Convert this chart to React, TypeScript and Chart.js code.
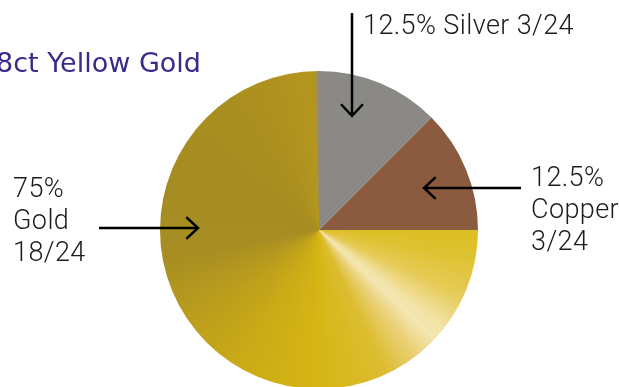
import React, { useEffect, useRef } from "react";
import { Chart, registerables } from "chart.js";

Chart.register(...registerables);

const categories = ["Silver", "Copper", "Gold"];
const parts = [3, 3, 18];
const titleText = "18ct Yellow Gold";
const silverLabel = ["12.5% Silver 3/24"];
const copperLabel = ["12.5%", "Copper", "3/24"];
const goldLabel = ["75%", "Gold", "18/24"];

const SILVER = "#8b8986";
const COPPER = "#8b5b3f";

function goldGradient(ctx: CanvasRenderingContext2D, cx: number, cy: number) {
  const g = (ctx as any).createConicGradient(0, cx, cy);
  const stops: [number, string][] = [
    [0.0, "#dcbf22"],
    [0.03, "#dfc232"],
    [0.07, "#e6cb58"],
    [0.105, "#f2e2a6"],
    [0.12, "#f4e6b2"],
    [0.145, "#ead076"],
    [0.18, "#dcbd30"],
    [0.25, "#d6b614"],
    [0.33, "#cbab16"],
    [0.4, "#bc9e1c"],
    [0.47, "#a88e22"],
    [0.55, "#a58c22"],
    [0.65, "#a98e20"],
    [0.745, "#b4961e"],
    [0.75, SILVER],
    [1.0, SILVER],
  ];
  stops.forEach(([o, c]) => g.addColorStop(o, c));
  return g;
}

function arrow(ctx: CanvasRenderingContext2D, x1: number, y1: number, x2: number, y2: number) {
  const ang = Math.atan2(y2 - y1, x2 - x1);
  const h = 16;
  const spread = Math.PI / 4.2;
  ctx.beginPath();
  ctx.moveTo(x1, y1);
  ctx.lineTo(x2, y2);
  ctx.moveTo(x2 - h * Math.cos(ang - spread), y2 - h * Math.sin(ang - spread));
  ctx.lineTo(x2, y2);
  ctx.lineTo(x2 - h * Math.cos(ang + spread), y2 - h * Math.sin(ang + spread));
  ctx.stroke();
}

const annotations = {
  id: "annotations",
  afterDraw(chart: any) {
    const ctx: CanvasRenderingContext2D = chart.ctx;
    ctx.save();
    ctx.fillStyle = "#372c8a";
    ctx.font = "27px 'DejaVu Sans'";
    ctx.textAlign = "right";
    ctx.textBaseline = "alphabetic";
    ctx.fillText(titleText, 201, 72);

    ctx.fillStyle = "#1c1c1c";
    ctx.font = "300 27px Roboto";
    (ctx as any).letterSpacing = "0.4px";
    ctx.textAlign = "left";
    silverLabel.forEach((t, i) => ctx.fillText(t, 363, 34 + i * 32));
    copperLabel.forEach((t, i) => ctx.fillText(t, 531, 186 + i * 32));
    goldLabel.forEach((t, i) => ctx.fillText(t, 13, 197 + i * 32));
    (ctx as any).letterSpacing = "0px";

    ctx.strokeStyle = "#000";
    ctx.lineWidth = 2.5;
    ctx.lineCap = "butt";
    ctx.lineJoin = "miter";
    arrow(ctx, 352, 13, 352, 116);
    arrow(ctx, 521, 188, 424, 188);
    arrow(ctx, 99, 228, 198, 228);
    ctx.restore();
  },
};

export default function App() {
  const ref = useRef<HTMLCanvasElement>(null);
  useEffect(() => {
    if (!ref.current) return;
    const chart = new Chart(ref.current, {
      type: "pie",
      data: {
        labels: categories,
        datasets: [
          {
            data: parts,
            borderWidth: 0,
            backgroundColor: (c: any) => {
              const i = c.dataIndex;
              if (i === 0) return SILVER;
              if (i === 1) return COPPER;
              const area = c.chart.chartArea;
              if (!area) return "#c8a818";
              const cx = (area.left + area.right) / 2;
              const cy = (area.top + area.bottom) / 2;
              return goldGradient(c.chart.ctx, cx, cy);
            },
          },
        ],
      },
      options: {
        responsive: false,
        animation: false,
        events: [],
        layout: { padding: { left: 160, top: 71, right: 141, bottom: 11 } },
        plugins: {
          legend: { display: false },
          tooltip: { enabled: false },
          title: { display: false },
        },
      },
      plugins: [annotations],
    });
    return () => chart.destroy();
  }, []);
  return (
    <div
      style={{
        position: "absolute",
        left: 0,
        top: 0,
        width: 619,
        height: 387,
        overflow: "hidden",
        background: "#fff",
      }}
    >
      <canvas ref={ref} width={619} height={400} style={{ width: 619, height: 400, display: "block" }} />
    </div>
  );
}
